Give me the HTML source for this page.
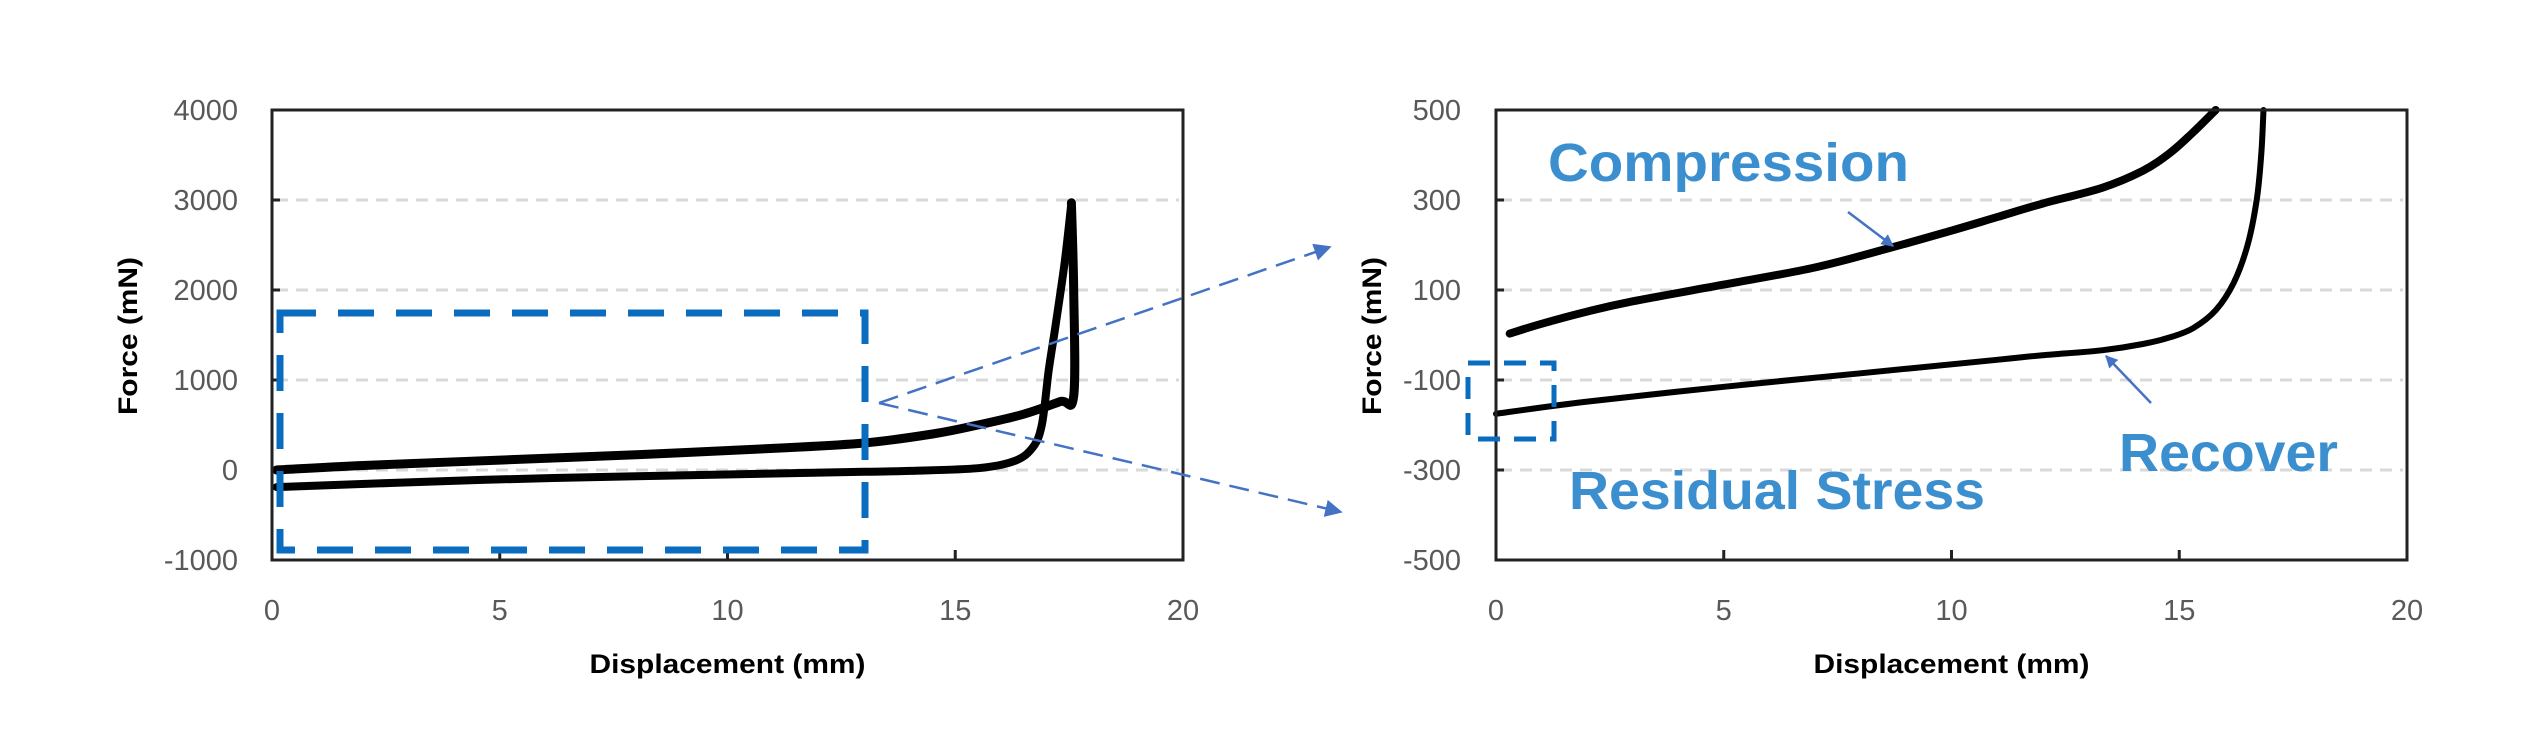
<!DOCTYPE html>
<html><head><meta charset="utf-8"><style>
html,body{margin:0;padding:0;background:#fff;}
svg{display:block;}
text{font-family:"Liberation Sans",sans-serif;}
</style></head><body>
<svg id="fig" width="2528" height="739" viewBox="0 0 2528 739" xmlns="http://www.w3.org/2000/svg">
<defs>
<marker id="ah" viewBox="0 0 10 10" refX="9" refY="5" markerWidth="7" markerHeight="7" orient="auto"><path d="M0,0 L10,5 L0,10 z" fill="#4472c4"/></marker>
<marker id="ah2" viewBox="0 0 10 10" refX="9" refY="5" markerWidth="5" markerHeight="5" orient="auto"><path d="M0,0 L10,5 L0,10 z" fill="#4472c4"/></marker>
</defs>
<g id="left"></g>
<g id="right"></g>
<g id="ann"></g>
</svg>
<script>
// ---- data ----
const xTicks = [0, 5, 10, 15, 20];
const leftYTicks = [4000, 3000, 2000, 1000, 0, -1000];
const rightYTicks = [500, 300, 100, -100, -300, -500];
const leftCompX = [0.1, 2, 5, 8, 11, 13, 14.5, 15.5, 16.5, 17.3, 17.6, 17.6, 17.55];
const leftCompY = [0, 50, 110, 170, 240, 300, 400, 500, 620, 760, 820, 2000, 2970];
const leftRecX = [17.55, 17.4, 17.2, 17.05, 16.9, 16.7, 16.3, 15.5, 14, 13, 8, 4.6, 0.1];
const leftRecY = [2970, 2300, 1600, 1100, 500, 250, 100, 20, -10, -20, -70, -110, -190];
const rightCompX = [0.3, 1, 2, 3, 5, 7, 8.7, 10, 11, 12, 13.3, 14.2, 14.8, 15.3, 15.8];
const rightCompY = [3, 25, 52, 75, 112, 150, 195, 232, 262, 292, 327, 365, 405, 450, 500];
const rightRecX = [0, 2, 5, 8, 11, 12, 13.3, 14.2, 14.8, 15.3, 15.8, 16.2, 16.5, 16.7, 16.8, 16.85];
const rightRecY = [-175, -148, -115, -85, -55, -45, -34, -20, -5, 15, 55, 117, 200, 300, 400, 500];

const NS = "http://www.w3.org/2000/svg";
function mk(parent, tag, attrs, txt) {
  const e = document.createElementNS(NS, tag);
  for (const k in attrs) e.setAttribute(k, attrs[k]);
  if (txt !== undefined) e.textContent = txt;
  parent.appendChild(e);
  return e;
}
function smooth(pts) {
  let d = "M" + pts[0][0].toFixed(1) + "," + pts[0][1].toFixed(1);
  for (let i = 0; i < pts.length - 1; i++) {
    const p0 = pts[Math.max(0, i - 1)], p1 = pts[i], p2 = pts[i + 1], p3 = pts[Math.min(pts.length - 1, i + 2)];
    const c1 = [p1[0] + (p2[0] - p0[0]) / 6, p1[1] + (p2[1] - p0[1]) / 6];
    const c2 = [p2[0] - (p3[0] - p1[0]) / 6, p2[1] - (p3[1] - p1[1]) / 6];
    d += " C" + c1[0].toFixed(1) + "," + c1[1].toFixed(1) + " " + c2[0].toFixed(1) + "," + c2[1].toFixed(1) + " " + p2[0].toFixed(1) + "," + p2[1].toFixed(1);
  }
  return d;
}
function drawChart(g, x0, x1, y0, y1, yMin, yMax, yTicks, yLabelRight, titleX, series) {
  const sx = v => x0 + (v - 0) / 20 * (x1 - x0);
  const sy = v => y1 - (v - yMin) / (yMax - yMin) * (y1 - y0);
  yTicks.forEach(t => {
    if (t !== yMax && t !== yMin) {
      const gl = mk(g, "line", {x1: x0 + 4, x2: x1 - 4, y1: sy(t), y2: sy(t), stroke: "#d9d9d9", "stroke-width": 3, "stroke-dasharray": "12 8"});
      
      
      const tk = mk(g, "line", {x1: x0, x2: x0 + 8, y1: sy(t), y2: sy(t), stroke: "#222", "stroke-width": 3});
      
      
    }
    const lb = mk(g, "text", {x: yLabelRight, y: sy(t) + 10, "text-anchor": "end", "font-size": 29, fill: "#595959"}, String(t));
    
    
  });
  xTicks.forEach(t => {
    if (t !== 0 && t !== 20) {
      const tk = mk(g, "line", {x1: sx(t), x2: sx(t), y1: y1, y2: y1 - 10, stroke: "#222", "stroke-width": 3});
      
      
    }
    const lb = mk(g, "text", {x: sx(t), y: 620, "text-anchor": "middle", "font-size": 29, fill: "#595959"}, String(t));
    
    
  });
  series.forEach(s => {
    const pts = s.x.map((v, i) => [sx(v), sy(Math.min(s.y[i], yMax))]);
    const p = mk(g, "path", {d: smooth(pts), fill: "none", stroke: "#000", "stroke-width": s.w, "stroke-linejoin": "round", "stroke-linecap": "round"});
    
    
  });
  const fr = mk(g, "rect", {x: x0, y: y0, width: x1 - x0, height: y1 - y0, fill: "none", stroke: "#222", "stroke-width": 3});
  
  
  const xt = mk(g, "text", {x: (x0 + x1) / 2, y: 673, "text-anchor": "middle", "font-size": 27, "font-weight": "bold", fill: "#000", textLength: 276, lengthAdjust: "spacingAndGlyphs"}, "Displacement (mm)");
  
  
  const yt = mk(g, "text", {x: 0, y: 0, transform: "translate(" + (titleX + 10) + ",336) rotate(-90)", "text-anchor": "middle", "font-size": 27, "font-weight": "bold", fill: "#000", textLength: 158, lengthAdjust: "spacingAndGlyphs"}, "Force (mN)");
  
  
}
drawChart(document.getElementById("left"), 272, 1183, 110, 560, -1000, 4000, leftYTicks, 238, 127,
  [{x: leftCompX, y: leftCompY, w: 9, name: "compression-curve"}, {x: leftRecX, y: leftRecY, w: 8, name: "recover-curve"}]);
drawChart(document.getElementById("right"), 1496, 2407, 110, 560, -500, 500, rightYTicks, 1461, 1371,
  [{x: rightCompX, y: rightCompY, w: 8, name: "compression-curve-zoom"}, {x: rightRecX, y: rightRecY, w: 6, name: "recover-curve-zoom"}]);

const a = document.getElementById("ann");
let e;
e = mk(a, "rect", {x: 280, y: 313, width: 585, height: 237, fill: "none", stroke: "#0a6cbf", "stroke-width": 7, "stroke-dasharray": "36 22"});


e = mk(a, "rect", {x: 1468, y: 363, width: 86, height: 76, fill: "none", stroke: "#0a6cbf", "stroke-width": 5, "stroke-dasharray": "22 14"});


e = mk(a, "line", {x1: 879, y1: 403, x2: 1330, y2: 247, stroke: "#4472c4", "stroke-width": 2.5, "stroke-dasharray": "20 10", "marker-end": "url(#ah)"});


e = mk(a, "line", {x1: 879, y1: 403, x2: 1341, y2: 512, stroke: "#4472c4", "stroke-width": 2.5, "stroke-dasharray": "20 10", "marker-end": "url(#ah)"});


e = mk(a, "line", {x1: 1848, y1: 212, x2: 1893, y2: 246, stroke: "#4472c4", "stroke-width": 2.5, "marker-end": "url(#ah2)"});


e = mk(a, "line", {x1: 2151, y1: 403, x2: 2106, y2: 356, stroke: "#4472c4", "stroke-width": 2.5, "marker-end": "url(#ah2)"});


e = mk(a, "text", {x: 1548, y: 181, "font-size": 54, "font-weight": "bold", fill: "#3b8fcf", textLength: 361, lengthAdjust: "spacingAndGlyphs"}, "Compression");


e = mk(a, "text", {x: 1569, y: 509, "font-size": 54, "font-weight": "bold", fill: "#3b8fcf", textLength: 416, lengthAdjust: "spacingAndGlyphs"}, "Residual Stress");


e = mk(a, "text", {x: 2119, y: 471, "font-size": 54, "font-weight": "bold", fill: "#3b8fcf", textLength: 219, lengthAdjust: "spacingAndGlyphs"}, "Recover");


</script>
</body></html>
